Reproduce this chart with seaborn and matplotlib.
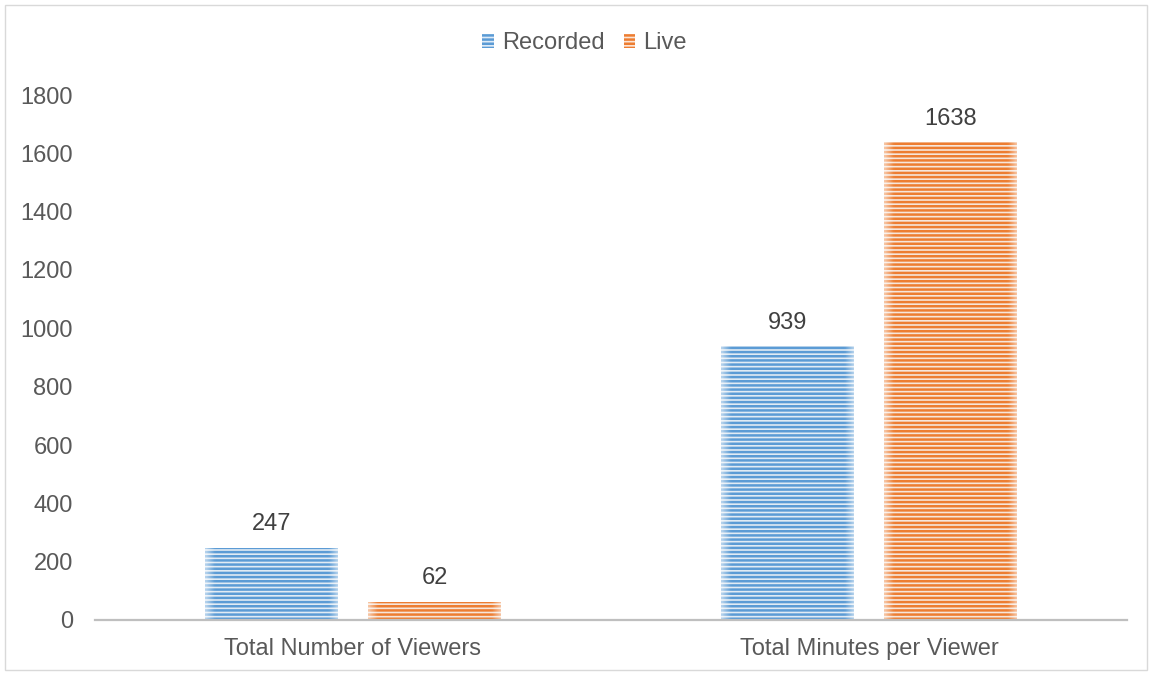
import matplotlib
matplotlib.use("Agg")
import matplotlib.pyplot as plt
from matplotlib.patches import Patch, Rectangle
import numpy as np
import seaborn as sns
import pandas as pd

categories = ["Total Number of Viewers", "Total Minutes per Viewer"]
series = ["Recorded", "Live"]
recorded = [247, 939]
live = [62, 1638]
y_ticks = [0, 200, 400, 600, 800, 1000, 1200, 1400, 1600, 1800]

df = pd.DataFrame({
    "category": categories * 2,
    "series": [series[0]] * 2 + [series[1]] * 2,
    "value": recorded + live,
})

dark = {"Recorded": "#5B9BD5", "Live": "#ED7D31"}
light = {"Recorded": "#DEEBF7", "Live": "#FBE5D6"}
text_color = "#595959"
fs = 17

sns.set_theme(style="white")
plt.rcParams["font.family"] = ["Liberation Sans", "DejaVu Sans"]
plt.rcParams["hatch.linewidth"] = 1.8

fig = plt.figure(figsize=(11.51, 6.73), dpi=100)
ax = fig.add_axes([95 / 1151, 1 - 620 / 673, 1032 / 1151, 525 / 673])

sns.barplot(data=df, x="category", y="value", hue="series", order=categories,
            hue_order=series, palette=light, width=0.632, gap=0.184,
            ax=ax, legend=False, errorbar=None)

# soft white fade along the vertical edges of each bar
fade = np.zeros((1, 64, 4))
fade[..., :3] = 1.0
xs = np.linspace(0, 1, 64)
edge = 0.07
fade[0, :, 3] = 0.55 * np.clip(1 - np.minimum(xs, 1 - xs) / edge, 0, 1)

for container, name in zip(ax.containers, series):
    for bar in container:
        bar.set_edgecolor(dark[name])
        bar.set_linewidth(0)
        bar.set_hatch("----")
        x0, w, h = bar.get_x(), bar.get_width(), bar.get_height()
        ax.imshow(fade, extent=(x0, x0 + w, 0, h), aspect="auto",
                  interpolation="bilinear", zorder=bar.get_zorder() + 0.1)
    ax.bar_label(container, fmt="%d", padding=9, fontsize=fs, color="#404040")

ax.set_ylim(0, 1800)
ax.set_xlim(-0.5, 1.5)
ax.set_aspect("auto")
ax.set_yticks(y_ticks)
ax.set_yticklabels([str(t) for t in y_ticks])
ax.tick_params(axis="y", length=0, pad=16, labelsize=fs, labelcolor=text_color)
ax.tick_params(axis="x", length=0, pad=13, labelsize=fs, labelcolor=text_color)
ax.set_xlabel("")
ax.set_ylabel("")
for side in ["top", "right", "left"]:
    ax.spines[side].set_visible(False)
ax.spines["bottom"].set_color("#BFBFBF")
ax.spines["bottom"].set_linewidth(1.6)
ax.spines["bottom"].set_zorder(5)
ax.grid(False)

handles = [Patch(facecolor=light[s], edgecolor=dark[s], linewidth=0, hatch="----", label=s)
           for s in series]
fig.legend(handles=handles, loc="center", bbox_to_anchor=(0.5 + 9 / 1151, 1 - 43 / 673),
           ncol=2, frameon=False, fontsize=fs, labelcolor=text_color, handlelength=0.5,
           handleheight=0.55, handletextpad=0.35, columnspacing=0.8)

fig.patches.append(Rectangle((5 / 1151, 3 / 673), 1142 / 1151, 665 / 673,
                             transform=fig.transFigure, fill=False,
                             edgecolor="#D9D9D9", linewidth=1))

fig.savefig("out.png", dpi=100)
